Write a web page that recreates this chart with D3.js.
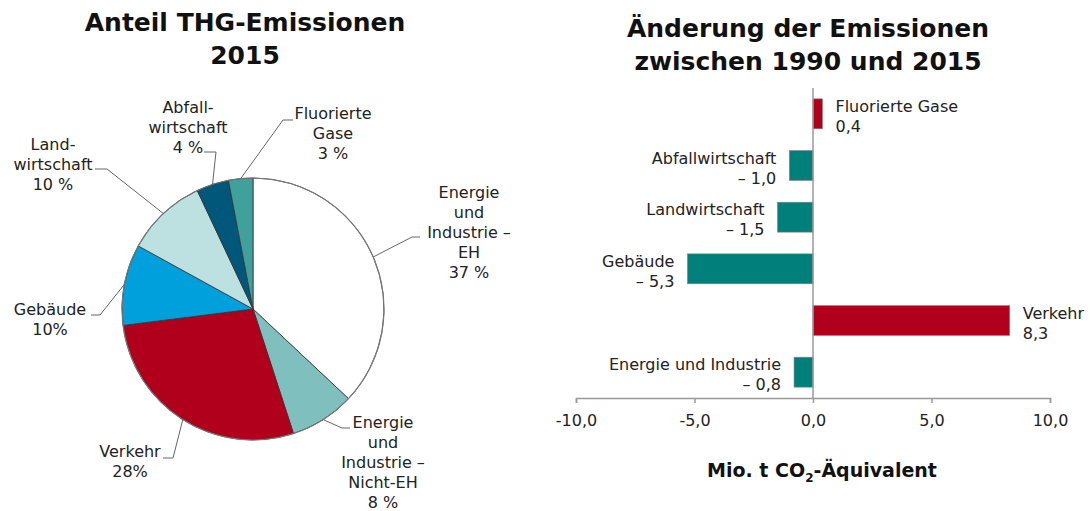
<!DOCTYPE html>
<html>
<head>
<meta charset="utf-8">
<script src="https://cdn.jsdelivr.net/npm/d3@7"></script>
<style>
  body { margin: 0; background: #fff; }
  svg { display: block; font-family: "DejaVu Sans", Verdana, sans-serif; }
</style>
</head>
<body>
<svg id="main" width="1090" height="511"></svg>
<script>
// pie: Anteil THG-Emissionen 2015 (clockwise from 12 o'clock)
var pieNames = ["Energie und Industrie – EH", "Energie und Industrie – Nicht-EH", "Verkehr", "Gebäude", "Landwirtschaft", "Abfallwirtschaft", "Fluorierte Gase"];
var pieShares = [37, 8, 28, 10, 10, 4, 3];
var pieLabels = [
  ["Energie", "und", "Industrie –", "EH", "37 %"],
  ["Energie", "und", "Industrie –", "Nicht-EH", "8 %"],
  ["Verkehr", "28%"],
  ["Gebäude", "10%"],
  ["Land-", "wirtschaft", "10 %"],
  ["Abfall-", "wirtschaft", "4 %"],
  ["Fluorierte", "Gase", "3 %"]
];
var pieColors = ["#ffffff", "#7fbfbe", "#b0001c", "#00a0dc", "#bde0e0", "#00577a", "#40a09c"];

// bars: Änderung der Emissionen 1990-2015, Mio. t CO2-Äq.
var barNames = ["Fluorierte Gase", "Abfallwirtschaft", "Landwirtschaft", "Gebäude", "Verkehr", "Energie und Industrie"];
var barValues = [0.4, -1.0, -1.5, -5.3, 8.3, -0.8];
var xTicks = [-10, -5, 0, 5, 10];

// label placement (offsets from pie centre), leader start and elbow
var pieLabelPos = [
  {x: 216, y: -116, lx: 167, ly: -72, ex: 159},
  {x: 130, y: 114, lx: 97, ly: 119, ex: 89},
  {x: -123, y: 143, lx: -90, ly: 149, ex: -80},
  {x: -203, y: 1, lx: -162, ly: 6, ex: -153},
  {x: -200, y: -164, lx: -158, ly: -140, ex: -146},
  {x: -65, y: -201, lx: -49, ly: -157, ex: -37},
  {x: 80, y: -195, lx: 40, ly: -189, ex: 30}
];

var svg = d3.select("#main");
var fmt = function(v) {
  var s = Math.abs(v).toFixed(1).replace(".", ",");
  return v < 0 ? "– " + s : s;
};

function title(x, y, lines) {
  var t = svg.append("text")
    .attr("text-anchor", "middle")
    .style("font-size", "25px")
    .style("font-weight", "bold")
    .attr("fill", "#111");
  lines.forEach(function(l, i) {
    t.append("tspan").attr("x", x).attr("y", y + i * 33).text(l);
  });
}

function initPie() {
  var cx = 253, cy = 309, r = 131;
  var g = svg.append("g").attr("transform", "translate(" + cx + "," + cy + ")");
  var arcs = d3.pie().sort(null).value(function(d) { return d; })(pieShares);
  var arc = d3.arc().innerRadius(0).outerRadius(r);

  g.selectAll("path.slice")
    .data(arcs).enter()
    .append("path")
    .attr("class", "slice")
    .attr("d", arc)
    .attr("fill", function(d, i) { return pieColors[i]; })
    .attr("stroke", "#333")
    .attr("stroke-width", 0.8);

  g.append("circle").attr("r", r).attr("fill", "none")
    .attr("stroke", "#777").attr("stroke-width", 1.2);

  arcs.forEach(function(d, i) {
    var p = pieLabelPos[i];
    var a = (d.startAngle + d.endAngle) / 2;
    var px = r * Math.sin(a), py = -r * Math.cos(a);
    g.append("polyline")
      .attr("points", [[p.lx, p.ly], [p.ex, p.ly], [px, py]].join(" "))
      .attr("fill", "none")
      .attr("stroke", "#666")
      .attr("stroke-width", 1);
    var t = g.append("text")
      .attr("text-anchor", "middle")
      .style("font-size", "16px")
      .attr("fill", "#222");
    pieLabels[i].forEach(function(l, j) {
      t.append("tspan").attr("x", p.x).attr("y", p.y + j * 20 + 5).text(l);
    });
  });
}

function initBars() {
  var x = d3.scaleLinear().domain([-10, 10]).range([576, 1050]);
  var y = d3.scaleBand().domain(barNames).range([88, 398])
    .paddingInner(0.42).paddingOuter(0.21);

  var g = svg.append("g");
  g.selectAll("rect")
    .data(barValues).enter()
    .append("rect")
    .attr("x", function(d) { return x(Math.min(0, d)); })
    .attr("y", function(d, i) { return y(barNames[i]); })
    .attr("width", function(d) { return Math.abs(x(d) - x(0)); })
    .attr("height", y.bandwidth())
    .attr("fill", function(d) { return d > 0 ? "#b0001c" : "#007f7b"; })
    .attr("stroke", "#888")
    .attr("stroke-width", 0.6);

  // zero line
  g.append("line")
    .attr("x1", x(0)).attr("x2", x(0))
    .attr("y1", 88).attr("y2", 398)
    .attr("stroke", "#999").attr("stroke-width", 1.5);

  barValues.forEach(function(v, i) {
    var pos = v > 0;
    var tx = pos ? x(v) + 13 : x(v) - 13;
    var t = g.append("text")
      .attr("text-anchor", pos ? "start" : "end")
      .style("font-size", "16px")
      .attr("fill", "#222");
    var y0 = y(barNames[i]) + 13;
    t.append("tspan").attr("x", tx).attr("y", y0).text(barNames[i]);
    t.append("tspan").attr("x", tx).attr("y", y0 + 20).text(fmt(v));
  });

  var ax = svg.append("g")
    .attr("transform", "translate(0,398)")
    .call(d3.axisBottom(x).tickValues(xTicks).tickSize(5).tickPadding(12)
      .tickFormat(function(d) { return d.toFixed(1).replace(".", ","); }));
  ax.select(".domain").attr("stroke", "#999").attr("stroke-width", 1.5);
  ax.selectAll(".tick line").attr("stroke", "#999").attr("stroke-width", 1.5);
  ax.selectAll(".tick text")
    .style("font-size", "16px")
    .style("font-family", "'DejaVu Sans', Verdana, sans-serif")
    .attr("fill", "#222");

  var at = svg.append("text")
    .attr("x", 822).attr("y", 477)
    .attr("text-anchor", "middle")
    .style("font-size", "19px")
    .style("font-weight", "bold")
    .attr("fill", "#111");
  at.append("tspan").text("Mio. t CO");
  at.append("tspan").attr("dy", 5).style("font-size", "12px").text("2");
  at.append("tspan").attr("dy", -5).text("-Äquivalent");
}

title(245, 31, ["Anteil THG-Emissionen", "2015"]);
title(808, 37, ["Änderung der Emissionen", "zwischen 1990 und 2015"]);
initPie();
initBars();
</script>
</body>
</html>
